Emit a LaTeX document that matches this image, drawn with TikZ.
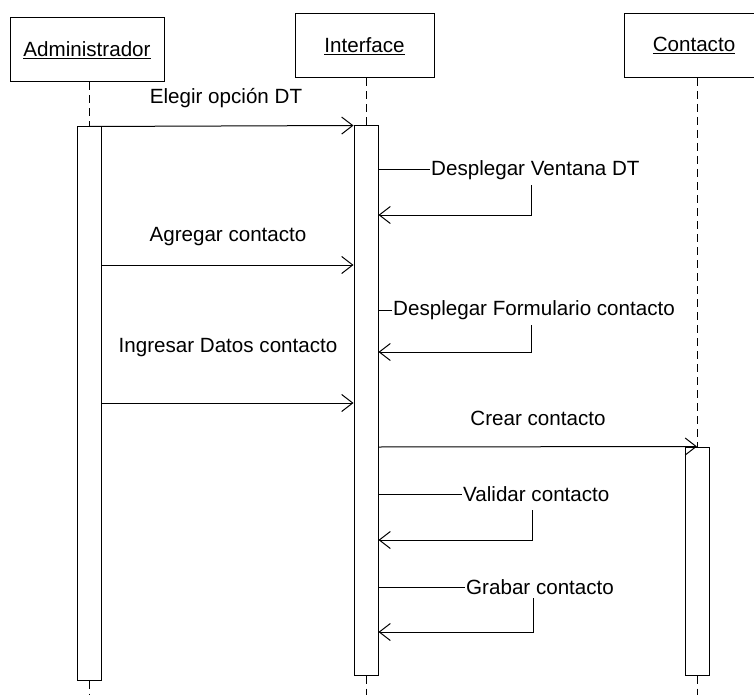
\documentclass[tikz,border=0pt]{standalone}
\usepackage{fontspec}
\setmainfont{Liberation Sans}
\usetikzlibrary{arrows.meta}
\begin{document}
\begin{tikzpicture}[x=1pt,y=-1pt,
  every node/.style={font=\fontsize{20.6}{24}\selectfont},
  obj/.style={draw, line width=1pt, minimum height=64pt, inner sep=0pt},
  act/.style={draw, line width=1pt, fill=white, minimum width=24pt, inner sep=0pt},
  life/.style={line width=1pt, dash pattern=on 8pt off 5pt},
  msg/.style={line width=1pt, -{Straight Barb[length=11pt,width=17pt]}},
  seg/.style={line width=1pt},
  lbl/.style={inner sep=1pt}]
\clip (0,0) rectangle (754,695);
\fill[white] (0,0) rectangle (754,695);
% objects
\node[obj, minimum width=154pt] (adm) at (87,50) {\underline{Administrador}};
\node[obj, minimum width=139pt] (int) at (364.5,46) {\underline{Interface}};
\node[obj, minimum width=140pt] (con) at (694,45.5) {\underline{Contacto}};
% activations
\node[act, minimum height=553pt] (a1) at (89,403.5) {};
\node[act, minimum height=549pt] (a2) at (366,400.5) {};
\node[act, minimum height=228pt] (a3) at (697,561) {};
% lifelines
\draw[life] (adm.south -| a1.north) -- (a1.north);
\draw[life] (a1.south) -- (a1.south |- 0,695);
\draw[life] (int.south -| a2.north) -- (a2.north);
\draw[life] (a2.south) -- (a2.south |- 0,695);
\draw[life] (con.south -| a3.north) -- (a3.north);
\draw[life] (a3.south) -- (a3.south |- 0,695);
% 1 Elegir opcion DT
\node[lbl] (l1) at (226,98) {Elegir opción DT};
\draw[msg] (a1.north) -- (a2.north west);
% 2 Desplegar Ventana DT
\node[lbl, anchor=west] (l2) at (430,170) {Desplegar Ventana DT};
\coordinate (c2a) at (531,185);
\coordinate (c2b) at (531,215);
\draw[seg] (a2.east |- l2.west) -- (l2.west);
\draw[msg] (c2a) -- (c2b) -- (a2.east |- c2b);
% 3 Agregar contacto
\node[lbl] (l3) at (228,237) {Agregar contacto};
\draw[msg] (a1.east |- 0,265) -- (a2.west |- 0,265);
% 4 Desplegar Formulario contacto
\node[lbl, anchor=west] (l4) at (392,310) {Desplegar Formulario contacto};
\coordinate (c4a) at (531,325);
\coordinate (c4b) at (531,352);
\draw[seg] (a2.east |- l4.west) -- (l4.west);
\draw[msg] (c4a) -- (c4b) -- (a2.east |- c4b);
% 5 Ingresar Datos contacto
\node[lbl] (l5) at (228,348) {Ingresar Datos contacto};
\draw[msg] (a1.east |- 0,403) -- (a2.west |- 0,403);
% 6 Crear contacto
\node[lbl] (l6) at (538,418) {Crear contacto};
\draw[msg] (a2.east |- 0,447) -- (a3.north);
% 7 Validar contacto
\node[lbl, anchor=west] (l7) at (462,494) {Validar contacto};
\coordinate (c7a) at (532,510);
\coordinate (c7b) at (532,540);
\draw[seg] (a2.east |- l7.west) -- (l7.west);
\draw[msg] (c7a) -- (c7b) -- (a2.east |- c7b);
% 8 Grabar contacto
\node[lbl, anchor=west] (l8) at (465,587) {Grabar contacto};
\coordinate (c8a) at (533,598);
\coordinate (c8b) at (533,632);
\draw[seg] (a2.east |- l8.west) -- (l8.west);
\draw[msg] (c8a) -- (c8b) -- (a2.east |- c8b);
\end{tikzpicture}
\end{document}
